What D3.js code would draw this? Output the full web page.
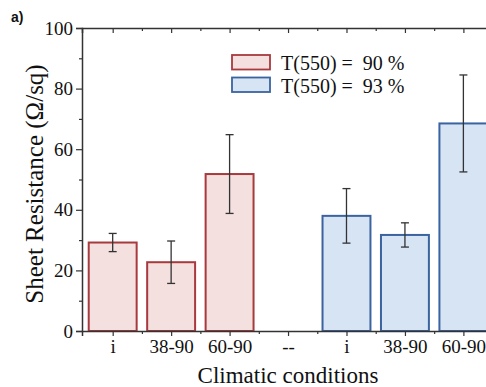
<!DOCTYPE html>
<html>
<head>
<meta charset="utf-8">
<script src="https://cdn.jsdelivr.net/npm/d3@7"></script>
<style>
  html, body { margin: 0; padding: 0; background: #fff; }
  svg { display: block; }
  text { font-family: "Liberation Serif", "Times New Roman", serif; fill: #111; }
</style>
</head>
<body>
<div id="chart"></div>
<script>
// categories along the x axis
const categories = ['i', '38-90', '60-90', '--', 'i', '38-90', '60-90'];
// each series sits on these category slots
const slots90 = [0, 1, 2];
const slots93 = [4, 5, 6];
// sheet resistance values and error bars
const values90 = [29.2, 22.7, 51.8];
const errors90 = [3, 7, 13];
const values93 = [38.0, 31.7, 68.5];
const errors93 = [9, 4, 16];
const legendLabels = ['T(550) =  90 %', 'T(550) =  93 %'];
const yTicks = [0, 20, 40, 60, 80, 100];

const width = 486;
const height = 387;

const series = [
  { label: legendLabels[0], slots: slots90, values: values90, errors: errors90, fill: '#f3e0df', stroke: '#a8393d' },
  { label: legendLabels[1], slots: slots93, values: values93, errors: errors93, fill: '#d6e4f4', stroke: '#3a63a0' }
];

const svg = d3.select('#chart').append('svg')
  .attr('width', width)
  .attr('height', height);

const x = d3.scaleLinear()
  .domain([-0.525, 7])
  .range([82, 82 + 7.525 * 58.45]);

const y = d3.scaleLinear()
  .domain([0, 100])
  .range([331, 28]);

const bw = 0.82 * 58.45;

// bars + error bars
series.forEach((s) => {
  const rows = s.slots.map((slot, i) => ({ slot: slot, v: s.values[i], e: s.errors[i] }));
  const g = svg.append('g');
  g.selectAll('rect')
    .data(rows)
    .enter().append('rect')
    .attr('x', (d) => x(d.slot) - bw / 2)
    .attr('width', bw)
    .attr('y', (d) => y(d.v))
    .attr('height', (d) => y(0) - y(d.v))
    .attr('fill', s.fill)
    .attr('stroke', s.stroke)
    .attr('stroke-width', 2);

  const eb = g.selectAll('g.err')
    .data(rows)
    .enter().append('g')
    .attr('stroke', '#333')
    .attr('stroke-width', 1.3);
  eb.append('line')
    .attr('x1', (d) => x(d.slot)).attr('x2', (d) => x(d.slot))
    .attr('y1', (d) => y(d.v + d.e)).attr('y2', (d) => y(d.v - d.e));
  eb.append('line')
    .attr('x1', (d) => x(d.slot) - 4).attr('x2', (d) => x(d.slot) + 4)
    .attr('y1', (d) => y(d.v + d.e)).attr('y2', (d) => y(d.v + d.e));
  eb.append('line')
    .attr('x1', (d) => x(d.slot) - 4).attr('x2', (d) => x(d.slot) + 4)
    .attr('y1', (d) => y(d.v - d.e)).attr('y2', (d) => y(d.v - d.e));
});

const idx = d3.range(categories.length);
const halfIdx = d3.range(categories.length).map((i) => i + 0.5);

// bottom axis
const bottomAxis = svg.append('g')
  .attr('transform', 'translate(0,' + y(0) + ')')
  .call(d3.axisBottom(x).tickValues(idx).tickSize(5).tickPadding(4)
    .tickFormat((d) => categories[d]));
bottomAxis.select('.domain').attr('stroke', '#333').attr('stroke-width', 1.5);
bottomAxis.selectAll('.tick line').attr('stroke', '#333').attr('stroke-width', 1.2);
bottomAxis.selectAll('.tick text').style('font-size', '19px').style('font-family', '"Liberation Serif", serif').attr('fill', '#111');
svg.append('g')
  .attr('transform', 'translate(0,' + y(0) + ')')
  .call(d3.axisBottom(x).tickValues(halfIdx).tickSize(3).tickFormat(''))
  .call((g) => g.select('.domain').remove())
  .selectAll('.tick line').attr('stroke', '#333').attr('stroke-width', 1.2);

// top axis (mirror, ticks inward)
const topAxis = svg.append('g')
  .attr('transform', 'translate(0,' + y(100) + ')')
  .call(d3.axisBottom(x).tickValues(idx).tickSize(5).tickFormat(''));
topAxis.select('.domain').attr('stroke', '#333').attr('stroke-width', 1.5);
topAxis.selectAll('.tick line').attr('stroke', '#333').attr('stroke-width', 1.2);
svg.append('g')
  .attr('transform', 'translate(0,' + y(100) + ')')
  .call(d3.axisBottom(x).tickValues(halfIdx).tickSize(3).tickFormat(''))
  .call((g) => g.select('.domain').remove())
  .selectAll('.tick line').attr('stroke', '#333').attr('stroke-width', 1.2);

// left axis
const leftAxis = svg.append('g')
  .attr('transform', 'translate(' + x(-0.525) + ',0)')
  .call(d3.axisLeft(y).tickValues(yTicks).tickSize(6).tickPadding(3));
leftAxis.select('.domain').attr('stroke', '#333').attr('stroke-width', 1.5);
leftAxis.selectAll('.tick line').attr('stroke', '#333').attr('stroke-width', 1.2);
leftAxis.selectAll('.tick text').style('font-size', '19px').style('font-family', '"Liberation Serif", serif').attr('fill', '#111');
svg.append('g')
  .attr('transform', 'translate(' + x(-0.525) + ',0)')
  .call(d3.axisLeft(y).tickValues(yTicks.slice(0, -1).map((d) => d + 10)).tickSize(3).tickFormat(''))
  .call((g) => g.select('.domain').remove())
  .selectAll('.tick line').attr('stroke', '#333').attr('stroke-width', 1.2);

// axis titles
svg.append('text')
  .attr('x', 288)
  .attr('y', 383)
  .attr('text-anchor', 'middle')
  .style('font-size', '23px')
  .text('Climatic conditions');

svg.append('text')
  .attr('transform', 'translate(43,' + 184 + ') rotate(-90)')
  .attr('text-anchor', 'middle')
  .style('font-size', '25px')
  .text('Sheet Resistance (\u03A9/sq)');

// panel label
svg.append('text')
  .attr('x', 11)
  .attr('y', 22)
  .style('font-family', '"Liberation Sans", Arial, sans-serif')
  .style('font-weight', 'bold')
  .style('font-size', '14px')
  .text('a)');

// legend
const legend = svg.append('g').attr('transform', 'translate(232,55)');
series.forEach((s, i) => {
  legend.append('rect')
    .attr('x', 0)
    .attr('y', i * 22.5)
    .attr('width', 38)
    .attr('height', 14.5)
    .attr('fill', s.fill)
    .attr('stroke', s.stroke)
    .attr('stroke-width', 1.8);
  legend.append('text')
    .attr('x', 49)
    .attr('y', i * 22.5 + 15)
    .style('font-size', '20px')
    .style('white-space', 'pre')
    .text(s.label);
});
</script>
</body>
</html>
